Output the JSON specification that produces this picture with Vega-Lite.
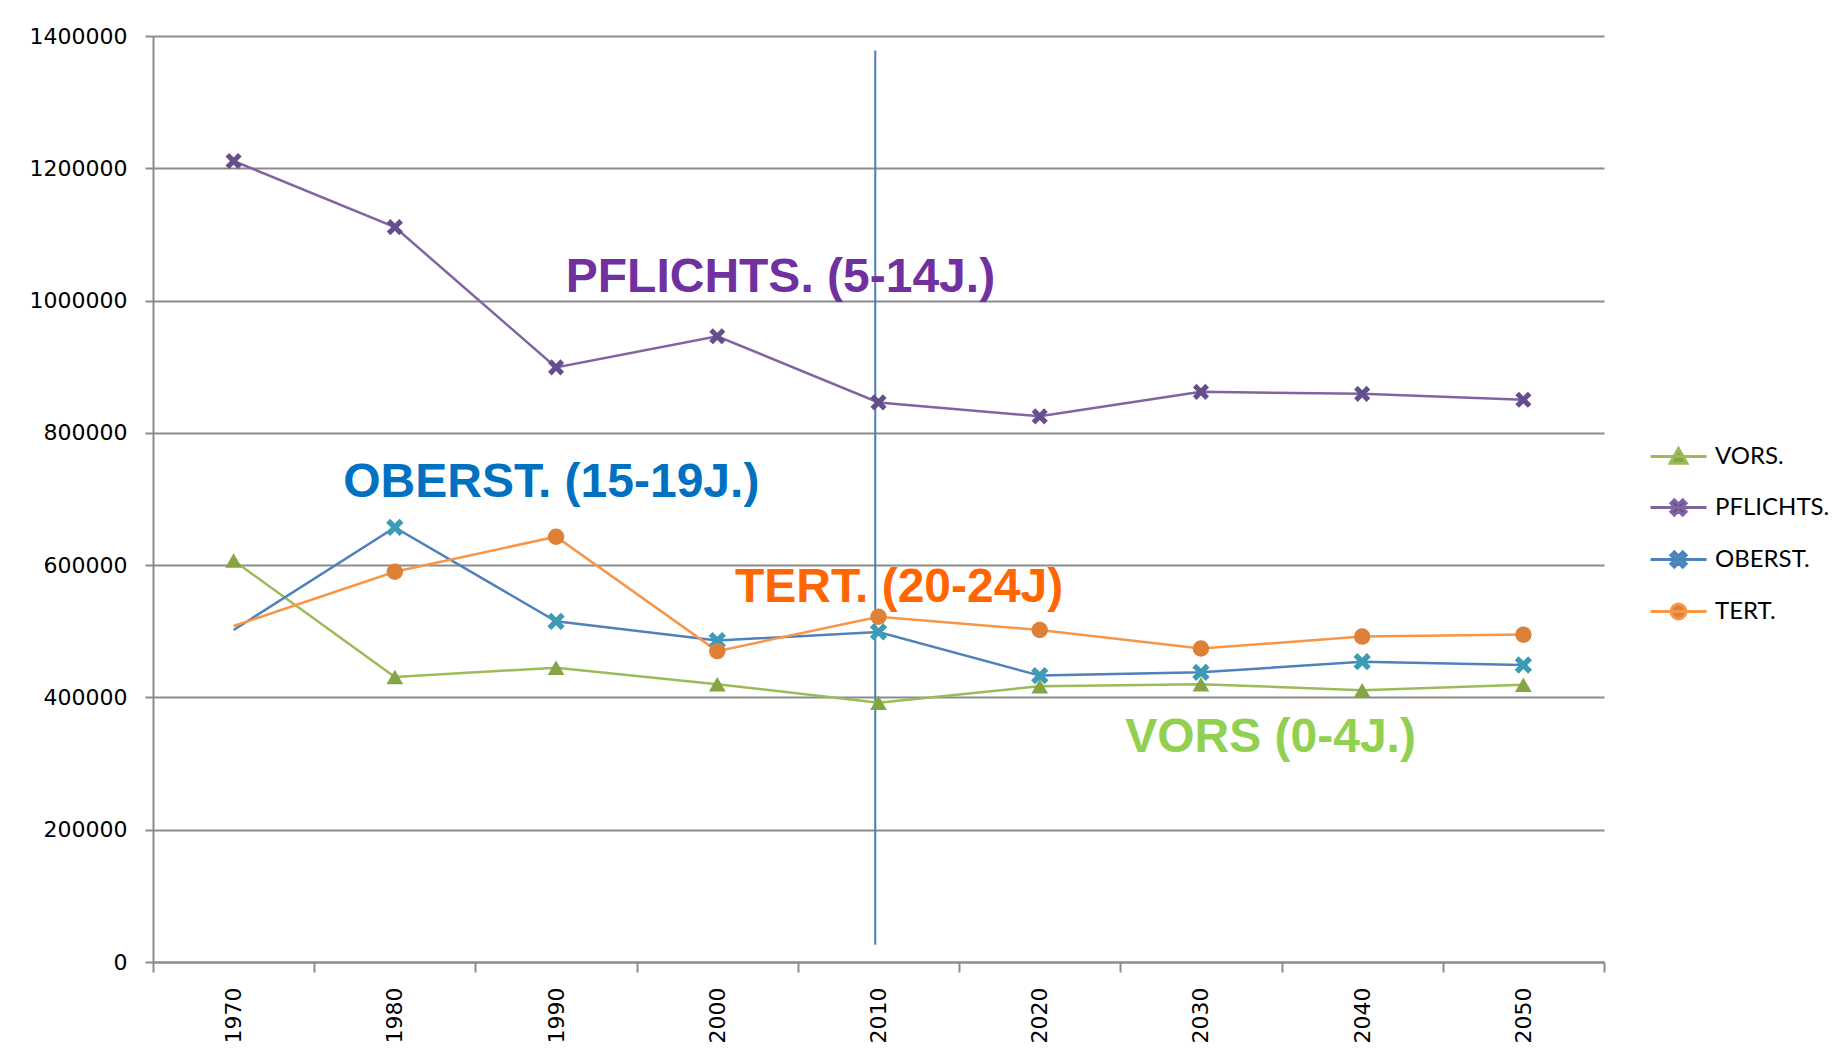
{
  "$schema": "https://vega.github.io/schema/vega-lite/v6.json",
  "width": 1451,
  "height": 926,
  "autosize": "none",
  "padding": {"left": 153, "top": 36, "right": 243, "bottom": 95},
  "background": "white",
  "config": {
    "view": {"stroke": null},
    "font": "DejaVu Sans",
    "legend": {
      "title": null, "orient": "none", "legendX": 1504, "legendY": 399, "padding": 0,
      "symbolSize": 1600, "rowPadding": 16, "labelOffset": 15, "symbolStrokeWidth": 3,
      "labelFont": "Lato", "labelFontSize": 24, "labelColor": "#000000", "labelLimit": 300
    }
  },
  "datasets": {
    "series": [
      {"series": "VORS.", "year": "1970", "value": 607000},
      {"series": "VORS.", "year": "1980", "value": 431000},
      {"series": "VORS.", "year": "1990", "value": 445000},
      {"series": "VORS.", "year": "2000", "value": 420000},
      {"series": "VORS.", "year": "2010", "value": 392000},
      {"series": "VORS.", "year": "2020", "value": 417000},
      {"series": "VORS.", "year": "2030", "value": 420000},
      {"series": "VORS.", "year": "2040", "value": 411000},
      {"series": "VORS.", "year": "2050", "value": 419000},
      {"series": "PFLICHTS.", "year": "1970", "value": 1211000},
      {"series": "PFLICHTS.", "year": "1980", "value": 1111000},
      {"series": "PFLICHTS.", "year": "1990", "value": 899000},
      {"series": "PFLICHTS.", "year": "2000", "value": 946000},
      {"series": "PFLICHTS.", "year": "2010", "value": 846000},
      {"series": "PFLICHTS.", "year": "2020", "value": 825000},
      {"series": "PFLICHTS.", "year": "2030", "value": 862000},
      {"series": "PFLICHTS.", "year": "2040", "value": 859000},
      {"series": "PFLICHTS.", "year": "2050", "value": 850000},
      {"series": "OBERST.", "year": "1970", "value": 502000},
      {"series": "OBERST.", "year": "1980", "value": 657000},
      {"series": "OBERST.", "year": "1990", "value": 515000},
      {"series": "OBERST.", "year": "2000", "value": 486000},
      {"series": "OBERST.", "year": "2010", "value": 499000},
      {"series": "OBERST.", "year": "2020", "value": 433000},
      {"series": "OBERST.", "year": "2030", "value": 438000},
      {"series": "OBERST.", "year": "2040", "value": 454000},
      {"series": "OBERST.", "year": "2050", "value": 449000},
      {"series": "TERT.", "year": "1970", "value": 508000},
      {"series": "TERT.", "year": "1980", "value": 590000},
      {"series": "TERT.", "year": "1990", "value": 643000},
      {"series": "TERT.", "year": "2000", "value": 470000},
      {"series": "TERT.", "year": "2010", "value": 522000},
      {"series": "TERT.", "year": "2020", "value": 502000},
      {"series": "TERT.", "year": "2030", "value": 474000},
      {"series": "TERT.", "year": "2040", "value": 492000},
      {"series": "TERT.", "year": "2050", "value": 495000}
    ]
  },
  "layer": [
    {
      "data": {"values": [{"year": "2010", "top": 1378000, "bottom": 26000}]},
      "mark": {"type": "rule", "color": "#4A7EBB", "strokeWidth": 2},
      "encoding": {
        "x": {
          "field": "year", "type": "ordinal", "bandPosition": 0.48,
          "scale": {"type": "band", "paddingInner": 0, "paddingOuter": 0},
          "axis": {
            "title": null, "tickBand": "extent", "labelAngle": -90, "labelAlign": "right", "labelBaseline": "middle",
            "labelFont": "DejaVu Sans", "labelFontSize": 22, "labelColor": "#000000", "labelPadding": 15,
            "tickSize": 10, "tickColor": "#8C8C8C", "tickWidth": 2, "domainColor": "#8C8C8C", "domainWidth": 2, "grid": false
          }
        },
        "y": {
          "field": "top", "type": "quantitative",
          "scale": {"domain": [0, 1400000], "nice": false},
          "axis": {
            "title": null, "values": [0, 200000, 400000, 600000, 800000, 1000000, 1200000, 1400000], "format": "d",
            "labelFont": "DejaVu Sans", "labelFontSize": 22, "labelColor": "#000000", "labelPadding": 18,
            "tickSize": 8, "tickColor": "#8C8C8C", "tickWidth": 2, "domainColor": "#8C8C8C", "domainWidth": 2,
            "grid": true, "gridColor": "#8C8C8C", "gridWidth": 2
          }
        },
        "y2": {"field": "bottom"}
      }
    },
    {
      "data": {"name": "series"},
      "mark": {"type": "line", "strokeWidth": 2.5},
      "encoding": {
        "x": {"field": "year", "type": "ordinal", "bandPosition": 0.5},
        "y": {"field": "value", "type": "quantitative"},
        "stroke": {
          "field": "series", "type": "nominal",
          "scale": {"domain": ["VORS.", "PFLICHTS.", "OBERST.", "TERT."], "range": ["#9BBB59", "#8064A2", "#4F81BD", "#F79646"]},
          "legend": {
            "encode": {
              "symbols": {
                "update": {
                  "shape": {"signal": "datum.value == 'VORS.' ? 'M-1.4,0H1.4M0,-0.4L0.42,0.34H-0.42Z' : datum.value == 'TERT.' ? 'M-1.4,0H1.4M0.37,0A0.37,0.37,0,1,1,-0.37,0A0.37,0.37,0,1,1,0.37,0Z' : 'M-1.4,0H1.4M-0.38,-0.21L-0.21,-0.38L0,-0.17L0.21,-0.38L0.38,-0.21L0.17,0L0.38,0.21L0.21,0.38L0,0.17L-0.21,0.38L-0.38,0.21L-0.17,0Z'"},
                  "fill": {"signal": "datum.value == 'VORS.' ? '#84A544' : datum.value == 'PFLICHTS.' ? '#654E8C' : datum.value == 'OBERST.' ? '#3C9BB5' : '#DD8138'"},
                  "strokeWidth": {"value": 3},
                  "opacity": {"value": 1}
                }
              }
            }
          }
        },
        "detail": {"field": "series"}
      }
    },
    {
      "data": {"name": "series"},
      "transform": [{"filter": "datum.series == 'VORS.'"}],
      "mark": {"type": "point", "filled": true, "size": 280, "opacity": 1, "shape": "triangle-up", "color": "#84A544"},
      "encoding": {
        "x": {"field": "year", "type": "ordinal", "bandPosition": 0.5},
        "y": {"field": "value", "type": "quantitative"}
      }
    },
    {
      "data": {"name": "series"},
      "transform": [{"filter": "datum.series == 'PFLICHTS.'"}],
      "mark": {"type": "point", "filled": true, "size": 260, "opacity": 1, "color": "#654E8C",
        "shape": "M-1,-0.55L-0.55,-1L0,-0.45L0.55,-1L1,-0.55L0.45,0L1,0.55L0.55,1L0,0.45L-0.55,1L-1,0.55L-0.45,0Z"},
      "encoding": {
        "x": {"field": "year", "type": "ordinal", "bandPosition": 0.5},
        "y": {"field": "value", "type": "quantitative"}
      }
    },
    {
      "data": {"name": "series"},
      "transform": [{"filter": "datum.series == 'OBERST.' && datum.year != '1970'"}],
      "mark": {"type": "point", "filled": true, "size": 300, "opacity": 1, "color": "#3C9BB5",
        "shape": "M-1,-0.55L-0.55,-1L0,-0.45L0.55,-1L1,-0.55L0.45,0L1,0.55L0.55,1L0,0.45L-0.55,1L-1,0.55L-0.45,0Z"},
      "encoding": {
        "x": {"field": "year", "type": "ordinal", "bandPosition": 0.5},
        "y": {"field": "value", "type": "quantitative"}
      }
    },
    {
      "data": {"name": "series"},
      "transform": [{"filter": "datum.series == 'TERT.' && datum.year != '1970'"}],
      "mark": {"type": "point", "filled": true, "size": 270, "opacity": 1, "shape": "circle", "color": "#DD8138"},
      "encoding": {
        "x": {"field": "year", "type": "ordinal", "bandPosition": 0.5},
        "y": {"field": "value", "type": "quantitative"}
      }
    },
    {
      "data": {"values": [{"label": "PFLICHTS. (5-14J.)", "year": "1990", "value": 1013000}]},
      "mark": {"type": "text", "align": "left", "baseline": "alphabetic", "font": "Liberation Sans", "fontWeight": "bold", "fontSize": 48, "color": "#7030A0"},
      "encoding": {
        "x": {"field": "year", "type": "ordinal", "bandPosition": 0.56},
        "y": {"field": "value", "type": "quantitative"},
        "text": {"field": "label"}
      }
    },
    {
      "data": {"values": [{"label": "OBERST. (15-19J.)", "year": "1980", "value": 703000}]},
      "mark": {"type": "text", "align": "left", "baseline": "alphabetic", "font": "Liberation Sans", "fontWeight": "bold", "fontSize": 48, "color": "#0070C0"},
      "encoding": {
        "x": {"field": "year", "type": "ordinal", "bandPosition": 0.18},
        "y": {"field": "value", "type": "quantitative"},
        "text": {"field": "label"}
      }
    },
    {
      "data": {"values": [{"label": "TERT. (20-24J)", "year": "2000", "value": 545000}]},
      "mark": {"type": "text", "align": "left", "baseline": "alphabetic", "font": "Liberation Sans", "fontWeight": "bold", "fontSize": 48, "color": "#FF6600"},
      "encoding": {
        "x": {"field": "year", "type": "ordinal", "bandPosition": 0.61},
        "y": {"field": "value", "type": "quantitative"},
        "text": {"field": "label"}
      }
    },
    {
      "data": {"values": [{"label": "VORS (0-4J.)", "year": "2030", "value": 318000}]},
      "mark": {"type": "text", "align": "left", "baseline": "alphabetic", "font": "Liberation Sans", "fontWeight": "bold", "fontSize": 48, "color": "#92D050"},
      "encoding": {
        "x": {"field": "year", "type": "ordinal", "bandPosition": 0.03},
        "y": {"field": "value", "type": "quantitative"},
        "text": {"field": "label"}
      }
    }
  ]
}
